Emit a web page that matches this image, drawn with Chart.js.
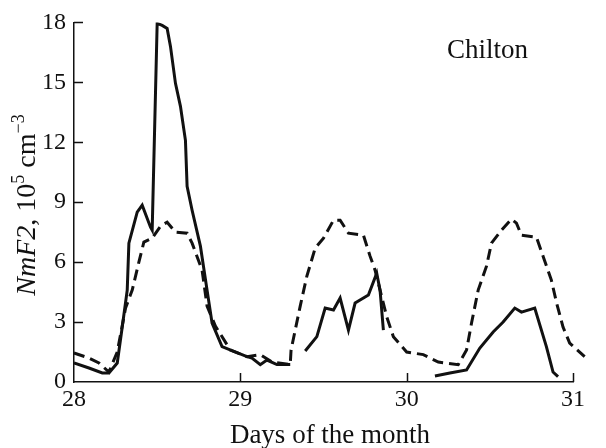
<!DOCTYPE html>
<html>
<head>
<meta charset="utf-8">
<script src="https://cdn.jsdelivr.net/npm/chart.js@4.4.1/dist/chart.umd.min.js"></script>
<style>
  html, body { margin: 0; padding: 0; background: #fff; }
  #wrap { width: 606px; height: 448px; }
</style>
</head>
<body>
<div id="wrap"><canvas id="chart" width="606" height="448"></canvas></div>
<script>
// values (day of month, NmF2 in 10^5 cm^-3)
const solidDays = [28.00, 28.09, 28.17, 28.21, 28.26, 28.29, 28.32, 28.33, 28.38, 28.41, 28.46, 28.47,
  28.50, 28.53, 28.56, 28.58, 28.61, 28.64, 28.67, 28.68, 28.71, 28.76, 28.80, 28.83, 28.89, 28.98,
  29.04, 29.07, 29.12, 29.16, 29.22, 29.30, 29.35,
  29.39, 29.46, 29.51, 29.56, 29.60, 29.65, 29.69, 29.77, 29.82, 29.84, 29.86, 30.00,
  30.17, 30.26, 30.36, 30.44, 30.52, 30.58, 30.65, 30.69, 30.77, 30.84, 30.88, 30.91];
const solidValues = [0.95, 0.7, 0.45, 0.45, 0.95, 2.75, 4.6, 6.95, 8.5, 8.85, 7.75, 7.6,
  17.95, 17.85, 17.7, 16.8, 14.95, 13.8, 12.1, 9.8, 8.6, 6.8, 4.6, 2.95, 1.77, 1.47,
  1.27, 1.2, 0.87, 1.1, 0.87, 0.87, null,
  1.55, 2.27, 3.7, 3.6, 4.2, 2.6, 3.95, 4.35, 5.45, 4.6, 2.6, null,
  0.3, 0.45, 0.6, 1.7, 2.5, 3.0, 3.7, 3.5, 3.7, 1.77, 0.5, 0.27];

const dashedDays = [28.00, 28.09, 28.15, 28.21, 28.26, 28.31, 28.35, 28.39, 28.42, 28.47, 28.52, 28.56,
  28.61, 28.68, 28.71, 28.77, 28.80, 28.85, 28.94, 29.04, 29.12, 29.19, 29.30, 29.305,
  29.33, 29.36, 29.40, 29.45, 29.50, 29.56, 29.60, 29.65, 29.74, 29.78, 29.81, 29.84, 29.88, 29.92,
  30.00, 30.10, 30.19, 30.31, 30.36, 30.39, 30.43, 30.48, 30.51, 30.57, 30.63, 30.66, 30.69,
  30.78, 30.82, 30.87, 30.90, 30.94, 30.98, 31.07];
const dashedValues = [1.45, 1.2, 0.95, 0.5, 1.5, 3.7, 4.6, 6.0, 7.0, 7.2, 7.8, 8.0,
  7.5, 7.45, 6.95, 5.6, 3.8, 2.8, 1.6, 1.27, 1.37, 1.0, 0.87, 1.6,
  2.6, 3.8, 5.3, 6.7, 7.2, 8.1, 8.1, 7.45, 7.35, 6.3, 5.6, 4.6, 3.27, 2.27,
  1.5, 1.37, 1.0, 0.87, 1.6, 2.95, 4.6, 5.8, 6.95, 7.6, 8.15, 7.95, 7.35,
  7.25, 6.3, 5.1, 4.0, 2.75, 1.95, 1.27];

const xTickValues = [28, 29, 30, 31];
const yTickValues = [0, 3, 6, 9, 12, 15, 18];

const stationName = 'Chilton';
const xTitle = 'Days of the month';

const ink = '#111';
const serif = "'Liberation Serif', 'Times New Roman', serif";

function toPoints(days, vals) {
  return days.map((d, i) => ({ x: d, y: vals[i] }));
}

// inward tick marks, axis titles and station label
const decorations = {
  id: 'decorations',
  afterDraw(chart) {
    const ctx = chart.ctx;
    const xs = chart.scales.x;
    const ys = chart.scales.y;
    const area = chart.chartArea;
    ctx.save();
    ctx.strokeStyle = ink;
    ctx.lineWidth = 1.5;
    ctx.beginPath();
    yTickValues.forEach(v => {
      if (v === 0) return;
      const py = Math.round(ys.getPixelForValue(v)) + 0.5;
      ctx.moveTo(area.left, py);
      ctx.lineTo(area.left + 9, py);
    });
    xTickValues.forEach(v => {
      if (v === xTickValues[0]) return;
      const px = Math.round(xs.getPixelForValue(v)) + 0.5;
      ctx.moveTo(px, area.bottom);
      ctx.lineTo(px, area.bottom - 9);
    });
    ctx.stroke();

    ctx.fillStyle = ink;
    ctx.textBaseline = 'alphabetic';

    // station name
    ctx.font = '27px ' + serif;
    ctx.textAlign = 'left';
    ctx.fillText(stationName, 447, 58);

    // x title
    ctx.textAlign = 'center';
    ctx.fillText(xTitle, 330, 443);

    // y title with italic part and superscripts
    const parts = [
      { t: 'NmF2', font: 'italic 28px ' + serif, dy: 0 },
      { t: ', 10', font: '28px ' + serif, dy: 0 },
      { t: '5', font: '18px ' + serif, dy: -11 },
      { t: ' cm', font: '28px ' + serif, dy: 0 },
      { t: '\u22123', font: '18px ' + serif, dy: -11 }
    ];
    let total = 0;
    parts.forEach(p => { ctx.font = p.font; p.w = ctx.measureText(p.t).width; total += p.w; });
    ctx.translate(35, 205);
    ctx.rotate(-Math.PI / 2);
    ctx.textAlign = 'left';
    let cx = -total / 2;
    parts.forEach(p => {
      ctx.font = p.font;
      ctx.fillText(p.t, cx, p.dy);
      cx += p.w;
    });
    ctx.restore();
  }
};

new Chart(document.getElementById('chart').getContext('2d'), {
  type: 'line',
  data: {
    datasets: [
      {
        label: 'observed',
        data: toPoints(solidDays, solidValues),
        borderColor: ink,
        borderWidth: 3,
        pointRadius: 0,
        tension: 0,
        spanGaps: false,
        fill: false
      },
      {
        label: 'model',
        data: toPoints(dashedDays, dashedValues),
        borderColor: ink,
        borderWidth: 3,
        borderDash: [11, 6],
        pointRadius: 0,
        tension: 0,
        fill: false,
        clip: false
      }
    ]
  },
  options: {
    responsive: false,
    animation: false,
    layout: { padding: { top: 22, right: 33, left: 0, bottom: 0 } },
    plugins: {
      legend: { display: false },
      tooltip: { enabled: false }
    },
    scales: {
      x: {
        type: 'linear',
        min: 28,
        max: 31,
        afterBuildTicks: s => { s.ticks = xTickValues.map(v => ({ value: v })); },
        afterFit: s => { s.height = 66; },
        grid: { display: false, drawTicks: false },
        border: { display: true, color: ink, width: 1.5 },
        ticks: {
          color: ink,
          padding: 3,
          maxRotation: 0,
          font: { family: serif, size: 24 }
        }
      },
      y: {
        min: 0,
        max: 18,
        afterBuildTicks: s => { s.ticks = yTickValues.map(v => ({ value: v })); },
        afterFit: s => { s.width = 74; },
        grid: { display: false, drawTicks: false },
        border: { display: true, color: ink, width: 1.5 },
        ticks: {
          color: ink,
          padding: 8,
          font: { family: serif, size: 24 }
        }
      }
    }
  },
  plugins: [decorations]
});
</script>
</body>
</html>
